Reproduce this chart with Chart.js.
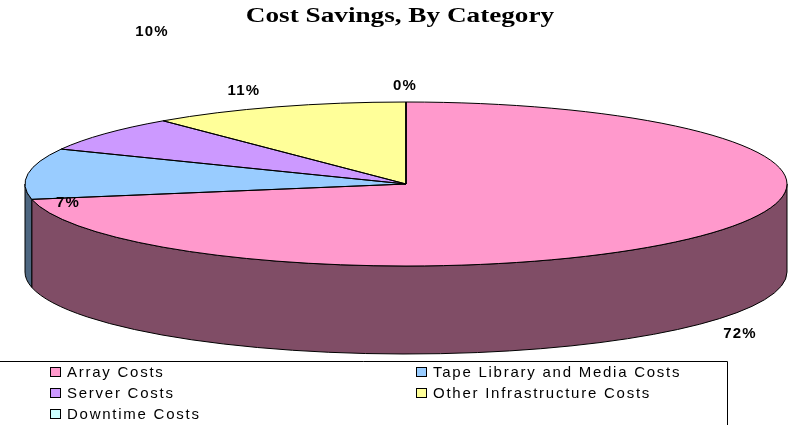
<!DOCTYPE html>
<html>
<head>
<meta charset="utf-8">
<style>html,body{margin:0;padding:0;background:#fff;overflow:hidden}canvas{display:block}</style>
<script src="https://cdn.jsdelivr.net/npm/chart.js@4"></script>
</head>
<body>
<canvas id="c" width="788" height="425"></canvas>
<script>
const categories = ["Array Costs", "Tape Library and Media Costs", "Server Costs", "Other Infrastructure Costs", "Downtime Costs"];
const values = [72, 10, 7, 11, 0];
const topColors = ["#FF99CC", "#99CCFF", "#CC99FF", "#FFFF99", "#CCFFFF"];
const wallColors = ["#804D66", "#4D6680", "#664D80", "#80804D", "#668080"];
const chartTitle = "Cost Savings, By Category";

const shape = { rx: 381, ry: 82, depth: 88 };
const labelSpots = [[740, 334], [152, 32], [68, 203], [244, 91], [405, 86]];
const legendSpots = [[50, 372], [416, 372], [50, 393], [416, 393], [50, 414]];

const pie3d = {
  id: "pie3d",
  beforeDatasetsDraw(chart) {
    const ctx = chart.ctx, arcs = chart.getDatasetMeta(0).data;
    ctx.save();
    ctx.strokeStyle = "#000"; ctx.lineWidth = 1;
    arcs.forEach((a, i) => {
      const s = Math.max(a.startAngle, 0), e = Math.min(a.endAngle, Math.PI);
      if (e <= s) return;
      ctx.beginPath();
      ctx.ellipse(a.x, a.y, shape.rx, shape.ry, 0, s, e);
      ctx.ellipse(a.x, a.y + shape.depth, shape.rx, shape.ry, 0, e, s, true);
      ctx.closePath();
      ctx.fillStyle = wallColors[i];
      ctx.fill(); ctx.stroke();
    });
    ctx.restore();
    const a0 = arcs[0];
    ctx.save();
    ctx.translate(a0.x, a0.y);
    ctx.scale(shape.rx / a0.outerRadius, shape.ry / a0.outerRadius);
    ctx.translate(-a0.x, -a0.y);
  },
  afterDatasetsDraw(chart) {
    const ctx = chart.ctx, arcs = chart.getDatasetMeta(0).data;
    ctx.restore();
    ctx.save();
    ctx.strokeStyle = "#000"; ctx.lineWidth = 1;
    arcs.forEach(a => {
      ctx.beginPath();
      ctx.moveTo(a.x, a.y);
      ctx.ellipse(a.x, a.y, shape.rx, shape.ry, 0, a.startAngle, a.endAngle);
      ctx.closePath();
      ctx.stroke();
    });
    ctx.restore();
  },
  afterDraw(chart) {
    const ctx = chart.ctx;
    ctx.save();
    ctx.textBaseline = "middle";
    // title, stretched sideways as in the reference
    ctx.fillStyle = "#000";
    ctx.textAlign = "center";
    ctx.save();
    ctx.translate(400, 17);
    ctx.scale(1.36, 1);
    ctx.font = "bold 20px 'Liberation Serif'";
    ctx.fillText(chartTitle, 0, 0);
    ctx.restore();
    // percent labels
    ctx.font = "bold 15px 'Liberation Sans'";
    ctx.letterSpacing = "1.2px";
    values.forEach((v, i) => ctx.fillText(v + "%", labelSpots[i][0], labelSpots[i][1]));
    // legend frame
    ctx.strokeStyle = "#000"; ctx.lineWidth = 1;
    ctx.beginPath();
    ctx.moveTo(0, 361.5); ctx.lineTo(727.5, 361.5); ctx.lineTo(727.5, 425);
    ctx.stroke();
    // legend entries
    ctx.textAlign = "left";
    ctx.font = "15px 'Liberation Sans'";
    ctx.letterSpacing = "1.75px";
    categories.forEach((c, i) => {
      const [x, y] = legendSpots[i];
      ctx.fillStyle = topColors[i];
      ctx.fillRect(x + .5, y - 4.5, 10, 9);
      ctx.strokeRect(x + .5, y - 4.5, 10, 9);
      ctx.fillStyle = "#000";
      ctx.fillText(c, x + 17, y + 1);
    });
    ctx.restore();
  }
};

new Chart(document.getElementById("c"), {
  type: "pie",
  data: { labels: categories, datasets: [{ data: values, backgroundColor: topColors, borderWidth: 0, clip: false }] },
  options: {
    responsive: false, animation: false,
    layout: { padding: { left: 324, right: 300, top: 102, bottom: 159 } },
    plugins: { legend: { display: false }, title: { display: false }, tooltip: { enabled: false } }
  },
  plugins: [pie3d]
});
</script>
</body>
</html>
